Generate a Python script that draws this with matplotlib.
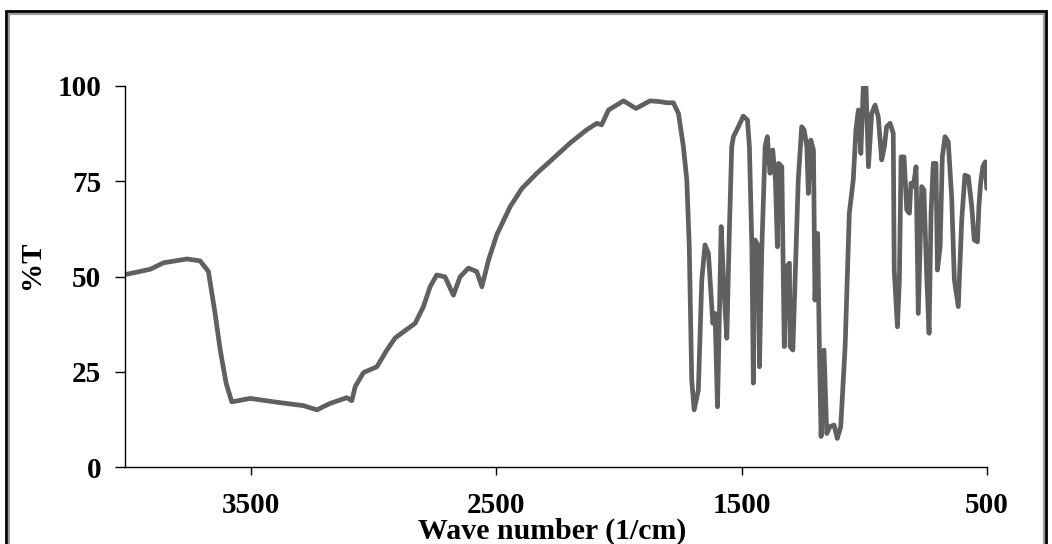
import matplotlib
matplotlib.use("Agg")
import matplotlib.pyplot as plt
from matplotlib.patches import Rectangle

# Wavenumber (1/cm) and transmittance (%T)
wavenumber = [4004, 3909, 3855, 3760, 3706, 3672, 3645, 3624, 3600, 3577,
              3502, 3393, 3285, 3230, 3176, 3108, 3088, 3074, 3040, 2986,
              2945, 2911, 2864, 2830, 2796, 2769, 2742, 2708, 2674, 2647,
              2613, 2579, 2558, 2531, 2497, 2443, 2395, 2334, 2267, 2199,
              2131, 2090, 2070, 2042, 1981, 1930, 1873, 1832, 1805, 1778,
              1757, 1737, 1723, 1713, 1703, 1693, 1676, 1662, 1649, 1635,
              1617, 1608, 1598, 1583, 1571, 1560, 1550, 1540, 1533, 1513,
              1493, 1476, 1468, 1458, 1452, 1445, 1431, 1427, 1418, 1404,
              1395, 1384, 1373, 1362, 1354, 1349, 1336, 1326, 1316, 1305,
              1302, 1291, 1282, 1269, 1255, 1245, 1234, 1228, 1218, 1207,
              1201, 1190, 1183, 1176, 1164, 1153, 1140, 1123, 1110, 1096,
              1078, 1061, 1045, 1034, 1024, 1014, 1004, 993, 983, 970,
              956, 943, 929, 918, 909, 895, 882, 878, 865, 857,
              850, 838, 827, 816, 810, 800, 789, 780, 766, 757,
              746, 736, 728, 719, 708, 702, 691, 682, 671, 658,
              644, 633, 617, 603, 590, 576, 562, 552, 539, 533,
              526, 517, 507, 501]
transmittance = [50.6, 51.9, 53.6, 54.6, 54.1, 51.3, 40.3, 30.7, 22.0, 17.1,
                 18.0, 17.0, 16.1, 15.0, 16.7, 18.2, 17.4, 21.1, 24.8, 26.3,
                 30.7, 33.9, 36.1, 37.7, 42.1, 47.3, 50.4, 49.9, 45.1, 49.9,
                 52.2, 51.3, 47.3, 54.3, 61.0, 68.3, 73.1, 77.1, 81.0, 85.0,
                 88.5, 90.2, 89.8, 93.7, 96.1, 94.1, 96.1, 95.9, 95.6, 95.6,
                 92.8, 84.1, 75.3, 57.8, 22.8, 15.0, 20.2, 49.1, 58.3, 56.1,
                 37.7, 40.3, 15.8, 63.1, 45.6, 33.8, 61.3, 84.1, 86.7, 89.3,
                 92.1, 91.1, 84.1, 57.8, 22.0, 59.6, 57.8, 26.3, 56.1, 84.1,
                 86.7, 77.1, 83.2, 75.3, 57.8, 79.7, 78.8, 31.6, 52.6, 53.5,
                 31.6, 30.7, 49.1, 75.3, 89.3, 88.5, 84.1, 71.8, 85.8, 83.2,
                 43.8, 61.3, 31.6, 8.0, 30.7, 8.8, 10.6, 11.0, 7.5, 10.6,
                 31.6, 66.6, 75.3, 88.5, 93.7, 82.3, 99.8, 99.8, 78.8, 92.8,
                 95.0, 91.9, 80.6, 84.1, 89.3, 90.2, 87.6, 51.7, 36.8, 49.1,
                 81.4, 81.4, 67.5, 66.6, 74.5, 73.6, 78.8, 40.3, 73.6, 72.7,
                 50.8, 35.1, 66.6, 79.7, 79.7, 51.7, 57.8, 81.4, 86.7, 85.4,
                 70.9, 49.1, 42.1, 64.8, 76.6, 76.2, 68.3, 59.6, 59.1, 68.3,
                 74.5, 78.8, 80.1, 73.1]

x_ticks = [3500, 2500, 1500, 500]
y_ticks = [0, 25, 50, 75, 100]

W, H = 1052, 544
fig = plt.figure(figsize=(W / 100, H / 100), dpi=100)
plt.rcParams['font.family'] = ['Liberation Serif', 'DejaVu Serif']

ax = fig.add_axes([125 / W, 1 - 467 / H, (987 - 125) / W, (467 - 86) / H])
ax.plot(wavenumber, transmittance, color='#606060', linewidth=3.4,
        solid_joinstyle='round', solid_capstyle='round')

ax.set_xlim(4012, 500)
ax.set_ylim(0, 100)
ax.set_xticks(x_ticks)
ax.set_xticklabels([str(t) for t in x_ticks])
ax.set_yticks(y_ticks)
ax.set_yticklabels([str(t) for t in y_ticks])

for s in ['top', 'right']:
    ax.spines[s].set_visible(False)
for s in ['left', 'bottom']:
    ax.spines[s].set_linewidth(1.0)
    ax.spines[s].set_color('black')

ax.tick_params(axis='y', direction='out', length=7, width=1.0, pad=10,
               labelsize=21)
ax.tick_params(axis='x', direction='out', length=6, width=1.0, pad=12,
               labelsize=21)
for lab in ax.get_xticklabels() + ax.get_yticklabels():
    lab.set_fontweight('bold')

ax.set_ylabel('%T', fontsize=21, fontweight='bold')
ax.yaxis.set_label_coords(-(125 - 45) / (987 - 125), (467 - 265) / (467 - 86))
ax.set_xlabel('Wave number (1/cm)', fontsize=21.5, fontweight='bold',
              va='center')
ax.xaxis.set_label_coords(0.495, -(531 - 467) / (467 - 86))

# chart-area frame (Excel-style double border)
fig.patches.append(Rectangle((6 / W, -0.05), (1046 - 6) / W, 1 - 11 / H + 0.05,
                             transform=fig.transFigure, fill=False,
                             edgecolor='black', linewidth=2.0))
fig.patches.append(Rectangle((8.5 / W, -0.05), (1043.5 - 8.5) / W,
                             1 - 13.5 / H + 0.05,
                             transform=fig.transFigure, fill=False,
                             edgecolor='#9a9a9a', linewidth=1.5))

fig.savefig('out.png', dpi=100)
